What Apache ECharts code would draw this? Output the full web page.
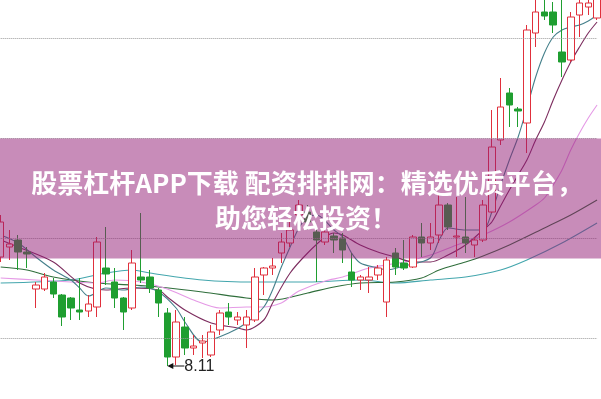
<!DOCTYPE html>
<html>
<head>
<meta charset="utf-8">
<script src="https://cdn.jsdelivr.net/npm/echarts@6/dist/echarts.min.js"></script>
<style>
html,body{margin:0;padding:0;background:#fff;}
#c{width:601px;height:399px;}
</style>
</head>
<body>
<div id="c"></div>
<script>
// OHLC: [open, close, low, high]
const candles = [
[9.20,9.55,9.15,9.62],[9.30,9.33,9.17,9.47],[9.37,9.25,9.07,9.42],[9.25,9.23,9.09,9.30],
[8.88,8.92,8.69,8.95],[8.88,9.00,8.86,9.04],[8.95,8.83,8.79,8.99],[8.82,8.60,8.51,8.83],
[8.79,8.69,8.57,8.80],[8.67,8.65,8.57,8.99],[8.66,8.73,8.60,8.82],[8.70,9.35,8.60,9.40],
[9.09,9.03,8.92,9.50],[8.95,8.79,8.69,9.09],[8.79,8.65,8.47,8.80],[8.69,9.14,8.67,9.27],
[9.00,8.97,8.94,9.64],[9.00,8.89,8.84,9.07],[8.87,8.74,8.60,8.89],[8.64,8.20,8.11,8.69],
[8.20,8.55,8.12,8.67],[8.50,8.29,8.22,8.60],[8.29,8.31,8.22,8.42],[8.34,8.36,8.19,8.42],
[8.22,8.45,8.20,8.52],[8.47,8.64,8.42,8.67],[8.65,8.60,8.52,8.74],[8.57,8.60,8.52,8.65],
[8.52,8.60,8.29,8.67],[8.57,9.00,8.55,9.09],[9.02,9.09,8.82,9.10],[9.09,9.11,9.02,9.19],
[9.24,9.35,9.14,9.44],[9.34,9.47,9.30,9.59],[9.62,9.72,9.55,9.77],[9.65,9.55,9.47,9.72],
[9.45,9.37,8.95,9.50],[9.35,9.45,9.32,9.52],[9.41,9.37,9.24,9.44],[9.39,9.27,9.14,9.44],
[9.05,8.97,8.90,9.24],[8.97,9.00,8.87,9.02],[8.97,9.00,8.84,9.10],[9.02,9.09,8.97,9.12],
[8.75,9.17,8.60,9.20],[9.24,9.10,9.02,9.29],[9.14,9.09,9.07,9.37],[9.10,9.40,9.09,9.42],
[9.40,9.34,9.20,9.54],[9.34,9.40,9.27,9.54],[9.42,9.72,9.34,9.84],[9.72,9.50,9.47,9.74],
[9.40,9.41,9.20,9.80],[9.40,9.34,9.24,9.80],[9.32,9.37,9.20,9.40],[9.37,9.72,9.35,9.77],
[9.65,10.30,9.64,10.67],[10.37,10.70,10.32,10.99],[10.84,10.72,10.50,10.89],[10.68,10.66,10.50,10.70],
[10.54,11.47,10.24,11.52],[11.44,11.65,11.30,11.82],[11.65,11.61,11.57,11.79],[11.65,11.52,11.44,11.75],
[11.25,11.15,11.00,11.87],[11.17,11.60,11.15,11.65],[11.62,11.74,11.40,11.80],[11.70,11.74,11.62,11.79],
[11.59,11.82,11.57,11.87]
];
const categories = candles.map((_, i) => String(i + 1));

// Moving-average lines: [candle index, value]
const ma5 = [[0,9.42],[2,9.34],[4,9.20],[6,9.07],[8,8.97],[9,8.89],[10,8.81],[12,8.89],[14,8.87],[16,8.90],[18,8.85],[20,8.69],[21,8.55],[23,8.35],[26,8.44],[28,8.54],[30,8.70],[31,8.87],[32,9.10],[33,9.30],[34,9.49],[35,9.60],[36,9.62],[38,9.47],[39,9.40],[40,9.24],[41,9.14],[43,9.09],[44,9.07],[46,9.11],[49,9.19],[50,9.37],[51,9.49],[53,9.47],[55,9.47],[56,9.65],[57,9.92],[58,10.17],[59,10.40],[60,10.69],[61,11.00],[62,11.24],[63,11.40],[64,11.47],[65,11.50],[66,11.52],[67,11.56],[68,11.62]];
const ma10 = [[0,9.37],[2,9.30],[6,9.15],[9,8.94],[12,8.87],[15,8.89],[18,8.87],[19,8.80],[21,8.67],[24,8.54],[27,8.49],[28,8.47],[30,8.57],[31,8.74],[33,9.04],[35,9.24],[37,9.40],[38,9.44],[39,9.42],[41,9.32],[43,9.25],[45,9.20],[47,9.15],[49,9.15],[51,9.22],[53,9.32],[55,9.47],[56,9.55],[57,9.71],[58,9.87],[59,10.02],[60,10.17],[61,10.37],[62,10.55],[63,10.77],[64,10.97],[65,11.15],[66,11.30],[67,11.44],[68,11.55]];
const ma20 = [[0,8.99],[4,8.97],[8,8.95],[11,8.94],[13,8.97],[16,8.95],[19,8.88],[22,8.77],[25,8.69],[28,8.70],[30,8.70],[32,8.74],[33,8.80],[34,8.86],[37,8.96],[39,9.00],[42,9.09],[46,9.15],[49,9.22],[52,9.32],[55,9.42],[58,9.55],[61,9.72],[62,9.79],[63,9.92],[64,10.07],[65,10.27],[66,10.44],[67,10.59],[68,10.72]];
const ma30 = [[0,9.10],[3,9.07],[6,9.00],[11,8.94],[15,8.92],[18,8.90],[23,8.85],[28,8.79],[31,8.77],[35,8.84],[38,8.90],[41,8.94],[45,8.95],[48,8.99],[50,9.07],[53,9.15],[55,9.21],[58,9.32],[62,9.49],[65,9.62],[68,9.77]];
const ma60 = [[0,8.94],[8,8.97],[12,9.04],[15,9.07],[17,9.04],[23,8.97],[29,8.95],[35,8.95],[41,8.97],[45,8.94],[49,8.97],[53,9.00],[57,9.07],[60,9.17],[64,9.34],[68,9.54]];

const gridLevels = [11.39, 10.39, 9.39, 8.39];
const titleLine1 = '股票杠杆APP下载 配资排排网：精选优质平台，';
const titleLine2 = '助您轻松投资！';

function toSeries(pairs) {
  const arr = new Array(candles.length).fill(null);
  pairs.forEach(p => { arr[p[0]] = p[1]; });
  return arr;
}
function maLine(pairs, color) {
  return {
    type: 'line', data: toSeries(pairs), connectNulls: true, smooth: 0.3,
    showSymbol: false, silent: true, z: 3,
    lineStyle: { color: color, width: 1.1 }
  };
}

const chart = echarts.init(document.getElementById('c'), null, { renderer: 'canvas' });
chart.setOption({
  animation: false,
  backgroundColor: '#ffffff',
  grid: { left: 0.7, right: 3.94, top: 0, bottom: 0 },
  xAxis: { type: 'category', data: categories, boundaryGap: false, show: false },
  yAxis: { type: 'value', min: 7.78, max: 11.77, show: false, splitLine: { show: false } },
  series: [
    {
      type: 'candlestick', data: candles, barWidth: 7, clip: false, z: 4,
      itemStyle: {
        color: '#ffffff', color0: '#1f9e30',
        borderColor: '#e0303c', borderColor0: '#1f9e30', borderWidth: 1
      },
      markLine: {
        silent: true, symbol: 'none', label: { show: false },
        lineStyle: { type: 'dotted', color: '#9a9a9a', width: 1 },
        data: gridLevels.map(v => ({ yAxis: v }))
      }
    },
    maLine(ma60, '#43a6ad'),
    maLine(ma30, '#2f6e3b'),
    maLine(ma20, '#e59ae6'),
    maLine(ma10, '#7c2c5e'),
    maLine(ma5, '#45808b')
  ]
});

// low marker
let minIdx = 0;
candles.forEach((c, i) => { if (c[2] < candles[minIdx][2]) minIdx = i; });
const lowVal = candles[minIdx][2];
const p = chart.convertToPixel({ xAxisIndex: 0, yAxisIndex: 0 }, [minIdx, lowVal]);

chart.setOption({
  graphic: [
    { type: 'rect', z: 100, shape: { x: 0, y: 138.5, width: 601, height: 120 },
      style: { fill: 'rgba(146,26,116,0.5)' } },
    { type: 'text', z: 101, x: 307, y: 183,
      style: { text: titleLine1, fill: '#ffffff', font: 'bold 26px "Noto Sans CJK SC"',
               textAlign: 'center', textVerticalAlign: 'middle' } },
    { type: 'text', z: 101, x: 306, y: 218,
      style: { text: titleLine2, fill: '#ffffff', font: 'bold 26px "Noto Sans CJK SC"',
               textAlign: 'center', textVerticalAlign: 'middle' } },
    { type: 'line', z: 50, shape: { x1: p[0] + 2, y1: p[1], x2: p[0] + 17, y2: p[1] },
      style: { stroke: '#111', lineWidth: 1 } },
    { type: 'polygon', z: 50, shape: { points: [[p[0], p[1]], [p[0] + 6, p[1] - 3], [p[0] + 6, p[1] + 3]] },
      style: { fill: '#111' } },
    { type: 'text', z: 50, x: p[0] + 17, y: p[1] + 1,
      style: { text: lowVal.toFixed(2), fill: '#222', font: '16px "Liberation Sans"',
               textAlign: 'left', textVerticalAlign: 'middle' } }
  ]
});
</script>
</body>
</html>
